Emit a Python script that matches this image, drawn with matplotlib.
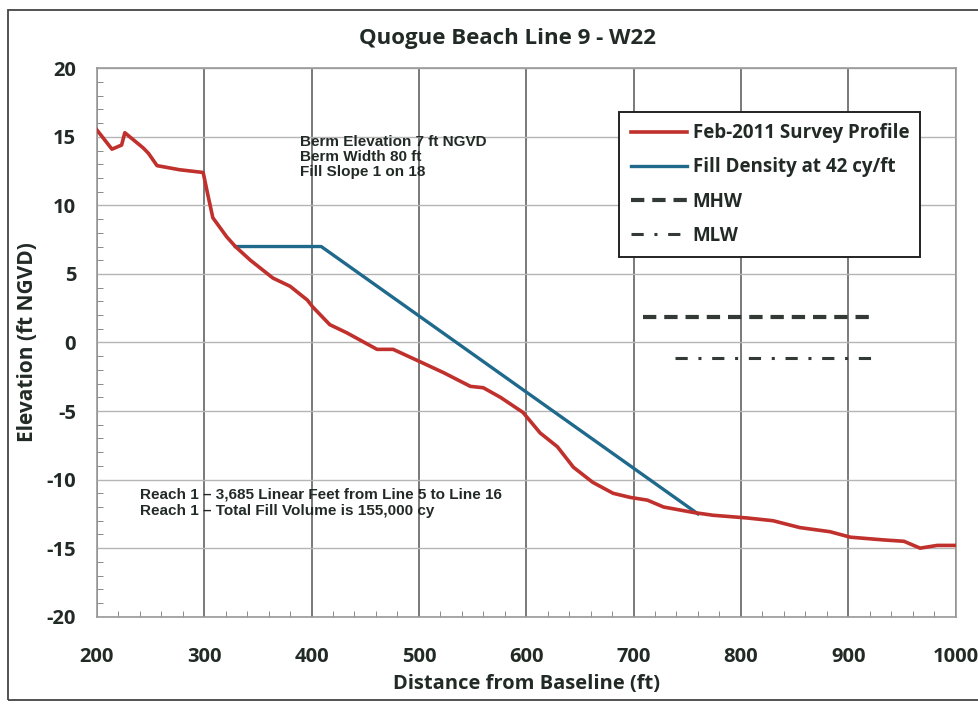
import matplotlib.pyplot as plt
from matplotlib.ticker import MultipleLocator, FormatStrFormatter
from matplotlib.patches import Rectangle

# Feb-2011 survey profile (distance ft, elevation ft NGVD)
survey_x = [200, 214, 223, 226, 243, 248, 256, 277, 299, 303, 308, 321, 329,
            343, 364, 380, 396, 401, 417, 433, 461, 476, 501, 523, 548, 560,
            576, 597, 613, 629, 644, 662, 681, 697, 713, 728, 756, 774, 806,
            830, 855, 883, 902, 933, 952, 967, 983, 1000]
survey_y = [15.5, 14.1, 14.4, 15.3, 14.2, 13.8, 12.9, 12.6, 12.4, 10.9, 9.1,
            7.7, 7.0, 6.0, 4.7, 4.1, 3.1, 2.6, 1.3, 0.7, -0.5, -0.5, -1.4,
            -2.2, -3.2, -3.3, -4.0, -5.1, -6.6, -7.6, -9.1, -10.2, -11.0,
            -11.3, -11.5, -12.0, -12.4, -12.6, -12.8, -13.0, -13.5, -13.8,
            -14.2, -14.4, -14.5, -15.0, -14.8, -14.8]

# fill template: berm at 7 ft, 80 ft wide, slope 1 on 18
fill_x = [329, 409, 760]
fill_y = [7.0, 7.0, -12.5]

mhw_x = [709, 923]
mhw_y = [1.85, 1.85]
mlw_x = [739, 921]
mlw_y = [-1.1, -1.1]

red = "#c0302c"
blue = "#1f6a8c"
dark = "#333a36"
txt = "#222a26"
font = "Open Sans"

plt.rcParams["axes.unicode_minus"] = False

fig = plt.figure(figsize=(9.79, 7.04), dpi=100)
ax = fig.add_axes([0.099, 0.124, 0.877, 0.779])

ax.plot(survey_x, survey_y, color=red, lw=2.6, label="Feb-2011 Survey Profile",
        solid_joinstyle="round", zorder=4)
ax.plot(fill_x, fill_y, color=blue, lw=2.4, label="Fill Density at 42 cy/ft", zorder=3)
ax.plot(mhw_x, mhw_y, color=dark, lw=3, dashes=(3.2, 1.9), label="MHW", zorder=3)
ax.plot(mlw_x, mlw_y, color=dark, lw=2.2, dashes=(4, 3.5, 1, 3.5), label="MLW", zorder=3)

ax.set_xlim(200, 1000)
ax.set_ylim(-20, 20)
ax.xaxis.set_major_locator(MultipleLocator(100))
ax.xaxis.set_minor_locator(MultipleLocator(20))
ax.yaxis.set_major_locator(MultipleLocator(5))
ax.yaxis.set_minor_locator(MultipleLocator(1))
ax.yaxis.set_major_formatter(FormatStrFormatter("%d"))
ax.grid(axis="x", which="major", color="#555555", lw=1.1)
ax.grid(axis="y", which="major", color="#b5b5b5", lw=1.0)
ax.tick_params(which="both", direction="in", color="#777777")
ax.tick_params(which="major", length=0)
ax.tick_params(axis="x", which="major", pad=22)
ax.tick_params(axis="y", which="major", pad=15)
ax.tick_params(which="minor", length=4)
ax.tick_params(which="major", labelsize=14.5, labelcolor=txt)
for s in ax.spines.values():
    s.set_color("#999999")
    s.set_linewidth(1.2)

for lbl in ax.get_xticklabels() + ax.get_yticklabels():
    lbl.set_fontfamily(font)
    lbl.set_fontweight("bold")

ax.set_xlabel("Distance from Baseline (ft)", fontfamily=font,
              fontweight="bold", fontsize=14.5, color=txt, labelpad=5)
ax.set_ylabel("Elevation (ft NGVD)", fontfamily=font,
              fontweight="bold", fontsize=15, color=txt, labelpad=6)
fig.text(0.518, 0.946, "Quogue Beach Line 9 - W22", ha="center", va="center",
         fontfamily=font, fontweight="bold", fontsize=16, color=txt)

ax.text(389, 15.1, "Berm Elevation 7 ft NGVD\nBerm Width 80 ft\nFill Slope 1 on 18",
        fontfamily="Liberation Sans", fontweight="bold", fontsize=11, va="top",
        ha="left", linespacing=1.05, color=txt, zorder=5)
ax.text(240, -10.6, "Reach 1 \u2013 3,685 Linear Feet from Line 5 to Line 16\n"
        "Reach 1 \u2013 Total Fill Volume is 155,000 cy",
        fontfamily="Liberation Sans", fontweight="bold", fontsize=11, va="top",
        ha="left", linespacing=1.18, color=txt, zorder=5)

leg = ax.legend(loc="upper right", bbox_to_anchor=(0.959, 0.92), frameon=True,
                fancybox=False, handlelength=3.0, handletextpad=0.3,
                labelspacing=0.75, borderpad=0.6, borderaxespad=0,
                prop={"family": font, "weight": "bold", "size": 13.5})
leg.get_frame().set_edgecolor("#222222")
leg.get_frame().set_linewidth(1.4)
leg.get_frame().set_alpha(1)
for t in leg.get_texts():
    t.set_color(txt)

fig.patches.append(Rectangle((0.008, 0.006), 1.1, 0.98, transform=fig.transFigure,
                             fill=False, edgecolor="#444444", lw=1.3))

fig.savefig("out.png", dpi=100)
